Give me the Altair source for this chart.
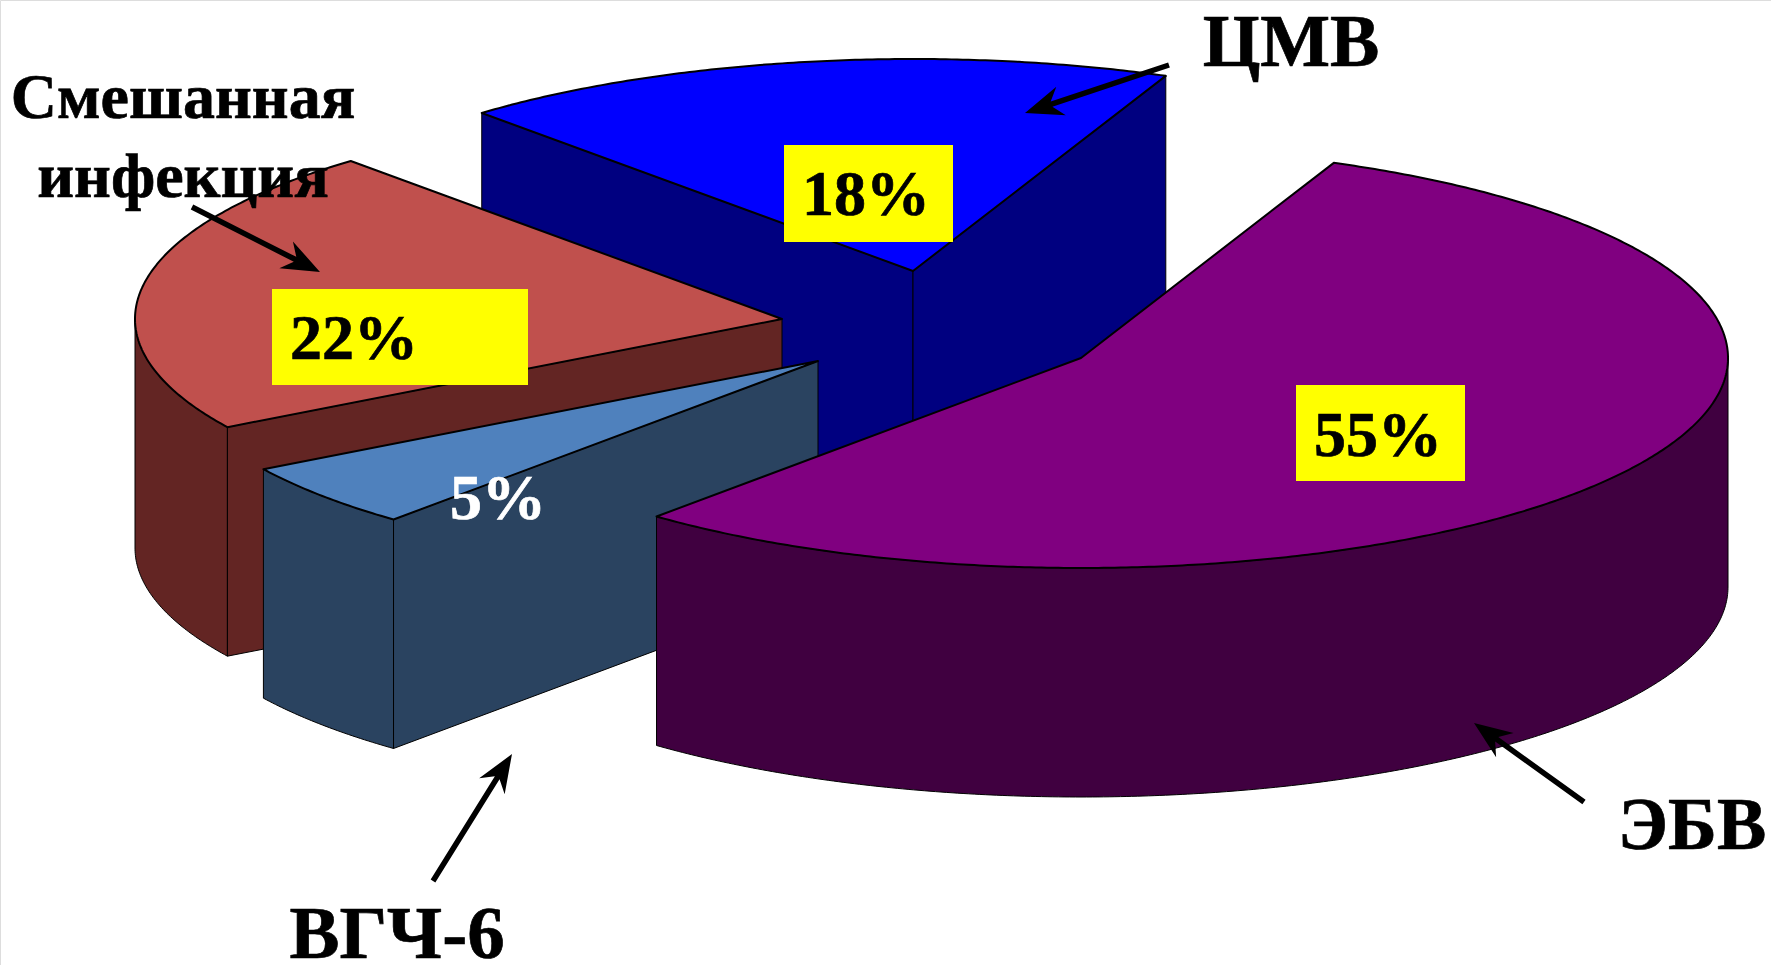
import math
import altair as alt

# Infection shares, in drawing order from the back of the pie to the front
series = ["ЦМВ", "Смешанная инфекция", "ВГЧ-6", "ЭБВ"]
shares = [18, 22, 5, 55]
top_colors = ["#0000FF", "#C0504D", "#4F81BD", "#800080"]
side_colors = ["#000080", "#632523", "#2A4360", "#400040"]
share_label_colors = ["black", "black", "white", "black"]

W, H = 1771, 965
RX, RY_BACK, RY_FRONT, DEPTH = 647, 212, 210, 229
START_ANGLE = 67

# Exploded position of each slice's tip
tips = [(913, 271), (782, 319), (818, 361), (1081, 358)]


def rim(tip, deg, drop=0):
    t = math.radians(deg)
    ry = RY_BACK if math.sin(t) > 0 else RY_FRONT
    return (tip[0] + RX * math.cos(t), tip[1] - ry * math.sin(t) + drop)


def arc(tip, a0, a1, drop=0):
    n = max(2, int(abs(a1 - a0) * 2))
    return [rim(tip, a0 + (a1 - a0) * i / n, drop) for i in range(n + 1)]


def feature(points, fill, stroke_width=1.0):
    ring = [list(p) for p in points] + [list(points[0])]
    return {
        "type": "Feature",
        "geometry": {"type": "Polygon", "coordinates": [ring]},
        "properties": {"fill": fill, "sw": stroke_width},
    }


def radial_face(tip, deg, fill):
    edge = rim(tip, deg)
    return feature(
        [tip, edge, (edge[0], edge[1] + DEPTH), (tip[0], tip[1] + DEPTH)], fill
    )


def wall(tip, a0, a1, fill):
    return feature(arc(tip, a0, a1) + arc(tip, a1, a0, DEPTH), fill)


# Angle boundaries follow directly from the shares
bounds = [START_ANGLE]
for s in shares:
    bounds.append(bounds[-1] + s * 3.6)

# Back slice: two radial faces
back_faces = [
    radial_face(tips[0], bounds[1], side_colors[0]),
    radial_face(tips[0], bounds[0], side_colors[0]),
]
# Slice on the left: outer wall from the leftmost point, then the cut face
left_faces = [
    wall(tips[1], 180, bounds[2], side_colors[1]),
    radial_face(tips[1], bounds[2], side_colors[1]),
]
# Narrow slice: outer wall and cut face
narrow_faces = [
    wall(tips[2], bounds[2], bounds[3], side_colors[2]),
    radial_face(tips[2], bounds[3], side_colors[2]),
]
# Large slice: the visible wall ends at the rightmost point
large_faces = [wall(tips[3], bounds[3], 360, side_colors[3])]


def top(i):
    return feature(
        [tips[i]] + arc(tips[i], bounds[i], bounds[i + 1]), top_colors[i], 2
    )


pie = (
    back_faces
    + [top(0)]
    + left_faces
    + [top(1)]
    + narrow_faces
    + [top(2)]
    + large_faces
    + [top(3)]
)

pixel_projection = dict(type="identity", scale=1, translate=[0, 0])

slices = (
    alt.Chart(alt.Data(values=pie))
    .mark_geoshape(stroke="black", strokeJoin="round")
    .encode(
        fill=alt.Fill("properties.fill:N", scale=None),
        strokeWidth=alt.StrokeWidth("properties.sw:Q", scale=None),
    )
    .project(**pixel_projection)
)

# Yellow plates behind the share labels
plates = (
    alt.Chart(
        alt.Data(
            values=[
                {"x": 784, "x2": 953, "y": 145, "y2": 242},
                {"x": 272, "x2": 528, "y": 289, "y2": 385},
                {"x": 1296, "x2": 1465, "y": 385, "y2": 481},
            ]
        )
    )
    .mark_rect(color="#FFFF00")
    .encode(
        x=alt.X("x:Q", scale=None, axis=None),
        x2="x2:Q",
        y=alt.Y("y:Q", scale=None, axis=None),
        y2="y2:Q",
    )
)

share_anchor = [(866, 215), (354, 359), (498, 519), (1378, 456)]
share_rows = [
    {"t": f"{s}%", "x": a[0], "y": a[1], "c": c}
    for s, a, c in zip(shares, share_anchor, share_label_colors)
]
share_text = (
    alt.Chart(alt.Data(values=share_rows))
    .mark_text(
        font="Liberation Serif",
        fontWeight="bold",
        fontSize=64,
        align="center",
        baseline="alphabetic",
        strokeWidth=0.7,
    )
    .encode(
        x=alt.X("x:Q", scale=None, axis=None),
        y=alt.Y("y:Q", scale=None, axis=None),
        text="t:N",
        color=alt.Color("c:N", scale=None),
        stroke=alt.Stroke("c:N", scale=None),
    )
)

name_rows = [
    {"t": "ЦМВ", "x": 1291, "y": 66, "s": 74},
    {"t": "Смешанная", "x": 183, "y": 118, "s": 64},
    {"t": "инфекция", "x": 183, "y": 197, "s": 64},
    {"t": "ВГЧ-6", "x": 397, "y": 958, "s": 75},
    {"t": "ЭБВ", "x": 1692, "y": 849, "s": 74},
]
name_text = (
    alt.Chart(alt.Data(values=name_rows))
    .mark_text(
        font="Liberation Serif",
        fontWeight="bold",
        align="center",
        baseline="alphabetic",
        color="black",
        stroke="black",
        strokeWidth=0.7,
    )
    .encode(
        x=alt.X("x:Q", scale=None, axis=None),
        y=alt.Y("y:Q", scale=None, axis=None),
        text="t:N",
        size=alt.Size("s:Q", scale=None, legend=None),
    )
)


def arrow(tail, tip, width=5.5, head_len=38, head_half=15, notch=28):
    dx, dy = tip[0] - tail[0], tip[1] - tail[1]
    L = math.hypot(dx, dy)
    ux, uy = dx / L, dy / L
    nx, ny = -uy, ux

    def along(d, off):
        return (tail[0] + ux * d + nx * off, tail[1] + uy * d + ny * off)

    return feature(
        [
            along(0, width / 2),
            along(L - notch, width / 2),
            along(L - head_len, head_half),
            along(L, 0),
            along(L - head_len, -head_half),
            along(L - notch, -width / 2),
            along(0, -width / 2),
        ],
        "black",
        0,
    )


pointers = [
    arrow((1169, 65), (1025, 113)),
    arrow((192, 207), (320, 272)),
    arrow((433, 881), (512, 754)),
    arrow((1584, 802), (1474, 723)),
]
pointer_marks = (
    alt.Chart(alt.Data(values=pointers))
    .mark_geoshape(strokeWidth=0)
    .encode(fill=alt.Fill("properties.fill:N", scale=None))
    .project(**pixel_projection)
)

chart = (
    alt.layer(slices, plates, share_text, name_text, pointer_marks)
    .properties(width=W, height=H, padding=0, background="white")
    .configure_view(stroke="transparent", strokeWidth=0)
    .configure(autosize=alt.AutoSizeParams(type="none"))
)

chart.save("out.html", embed_options={"renderer": "svg", "actions": False})
